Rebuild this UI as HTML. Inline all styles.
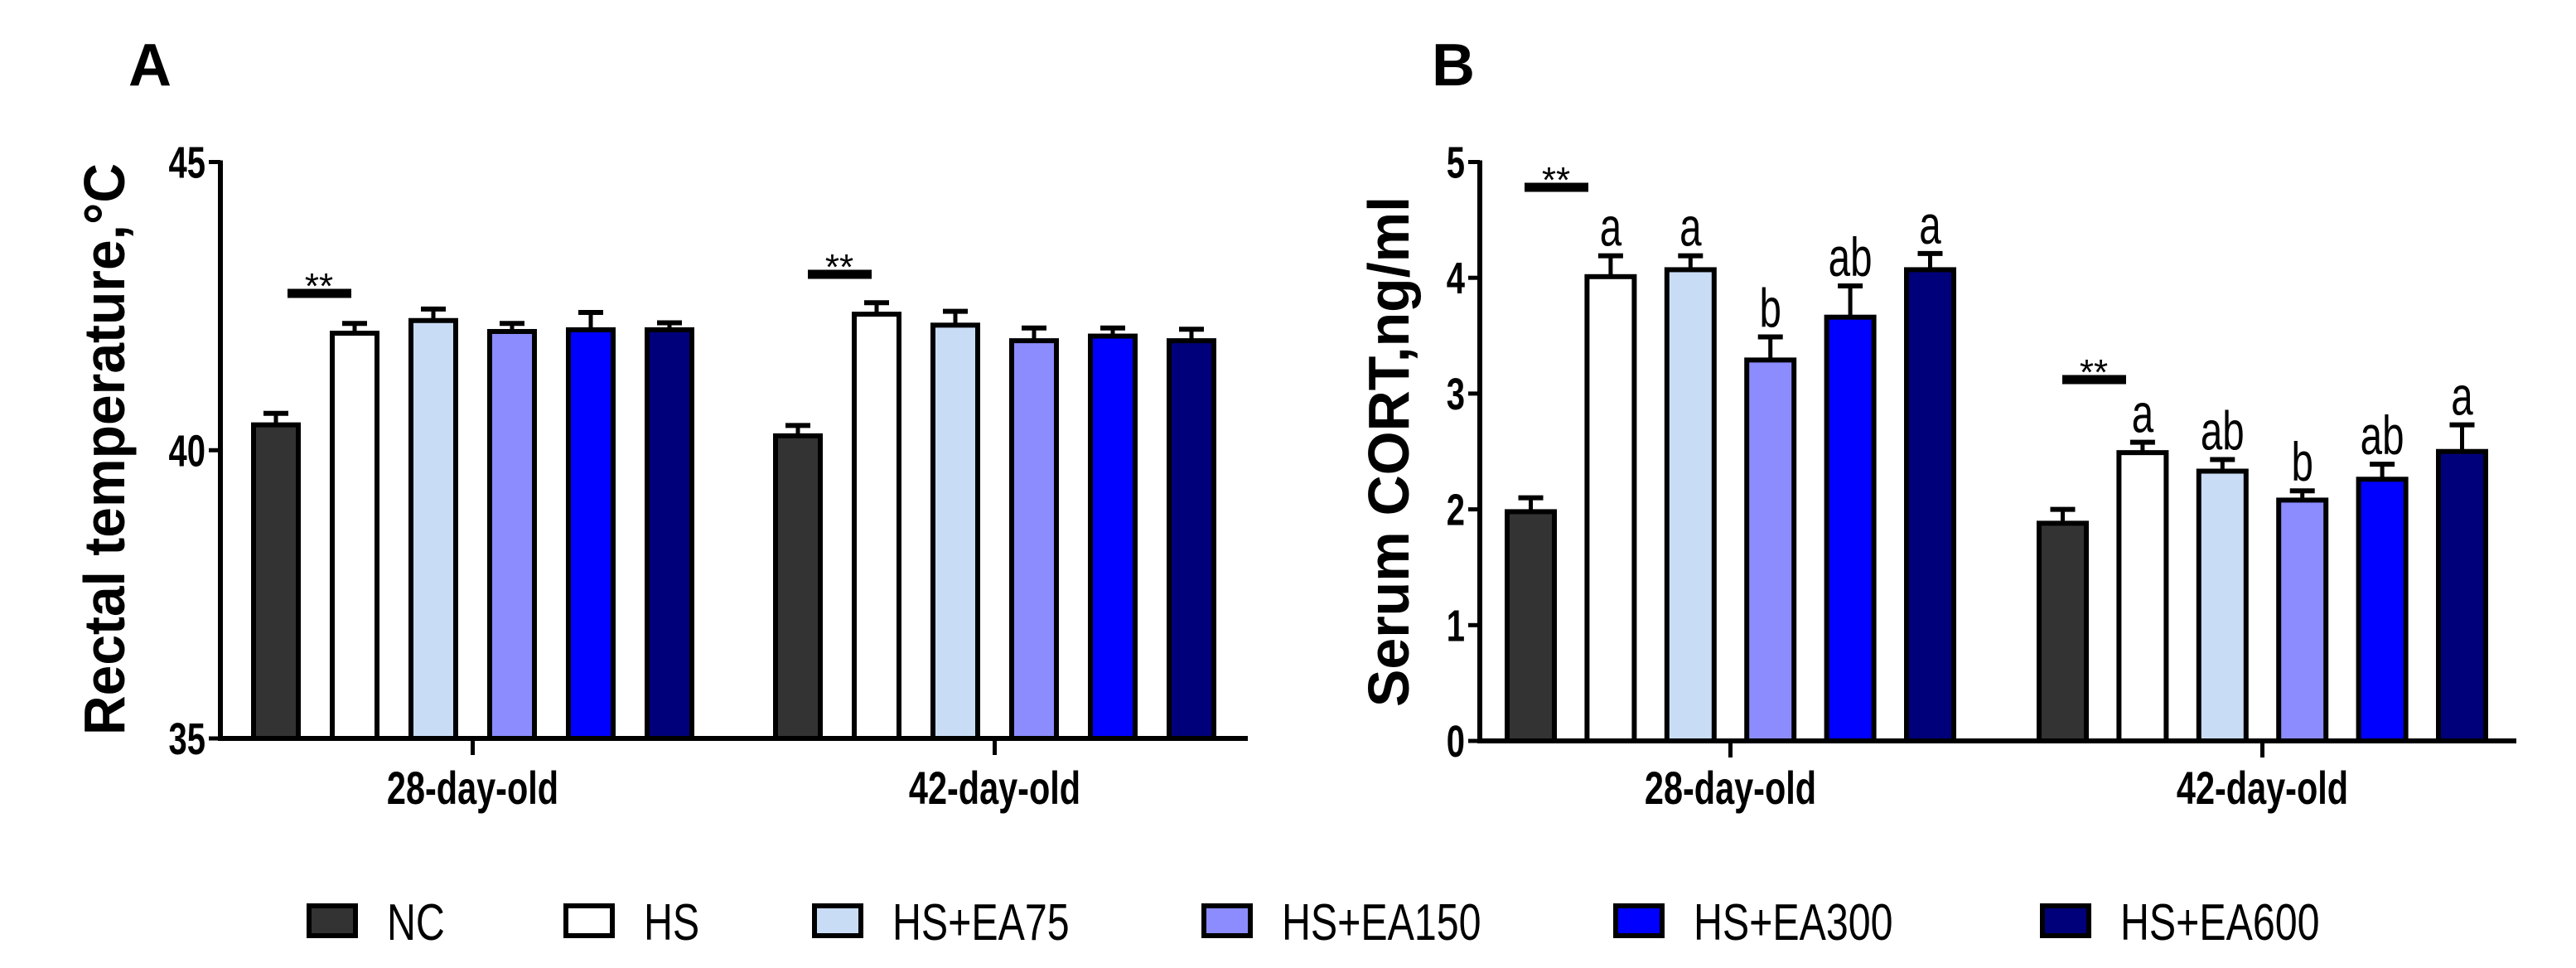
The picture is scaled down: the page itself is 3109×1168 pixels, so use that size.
<!DOCTYPE html>
<html><head><meta charset="utf-8"><style>
html,body{margin:0;padding:0;background:#fff}
svg{display:block}
text{font-family:"Liberation Sans",sans-serif}
</style></head><body>
<svg id="fig" width="3109" height="1168" viewBox="0 0 3109 1168" xmlns="http://www.w3.org/2000/svg">
<g id="legend"></g>
</svg>
<script>
const groups = ["28-day-old", "42-day-old"];
const seriesNames = ["NC", "HS", "HS+EA75", "HS+EA150", "HS+EA300", "HS+EA600"];
const colors = ["#333333", "#ffffff", "#c9dcf6", "#8c8cff", "#0000ff", "#00007a"];
const tempMeans = [[40.44, 42.03, 42.25, 42.06, 42.09, 42.09], [40.25, 42.36, 42.17, 41.9, 41.98, 41.9]];
const tempErr = [[0.2, 0.17, 0.2, 0.14, 0.3, 0.12], [0.18, 0.2, 0.24, 0.22, 0.14, 0.2]];
const tempTicks = [35, 40, 45];
const cortMeans = [[1.98, 4.01, 4.07, 3.29, 3.66, 4.07], [1.88, 2.49, 2.33, 2.08, 2.26, 2.5]];
const cortErr = [[0.12, 0.18, 0.12, 0.2, 0.27, 0.14], [0.12, 0.09, 0.1, 0.08, 0.13, 0.23]];
const cortTicks = [0, 1, 2, 3, 4, 5];
const cortLetters = [["", "a", "a", "b", "ab", "a"], ["", "a", "ab", "b", "ab", "a"]];

const NS = "http://www.w3.org/2000/svg";
const svg = document.getElementById("fig");
function mk(tag, attrs, parent, txt) {
  const e = document.createElementNS(NS, tag);
  for (const k in attrs) e.setAttribute(k, attrs[k]);
  if (txt !== undefined) e.textContent = txt;
  (parent || svg).appendChild(e);
  return e;
}
function ntext(x, y, str, size, anchor, bold, parent, sx) {
  return mk("text", {x: 0, y: 0, "text-anchor": anchor, "font-size": size, "font-weight": bold ? "bold" : "normal",
    transform: `translate(${x},${y}) scale(${sx || 0.74},1)`}, parent, str);
}

function panel(o) {
  const g = mk("g", {});
  
  
  const y = v => o.y0 + (v - o.vmin) / (o.vmax - o.vmin) * (o.y1 - o.y0);
  const L = mk("text", {x: o.letterX, y: 103, "font-size": 72, "font-weight": "bold"}, g, o.letter);
  
  
  const ya = mk("line", {x1: o.ax, y1: y(o.vmax) - 2, x2: o.ax, y2: y(o.vmin) + 3, stroke: "#000", "stroke-width": 6}, g);
  
  
  o.ticks.forEach(t => {
    mk("line", {x1: o.ax - 14, x2: o.ax, y1: y(t), y2: y(t), stroke: "#000", "stroke-width": 5}, g);
    const tl = ntext(o.ax - 18, y(t) + 19, String(t), 54, "end", true, g);
    
    
  });
  const xa = mk("line", {x1: o.ax - 3, y1: y(o.vmin), x2: o.axEnd, y2: y(o.vmin), stroke: "#000", "stroke-width": 6}, g);
  
  
  const yt = mk("text", {x: 0, y: 0, "text-anchor": "middle", "font-size": 70, "font-weight": "bold",
    textLength: o.titleLen, lengthAdjust: "spacingAndGlyphs",
    transform: `translate(${o.titleX},${o.titleY}) rotate(-90)`}, g, o.title);
  
  
  groups.forEach((gn, gi) => {
    const start = o.gStart[gi];
    const center = start + 2.5 * o.pitch + o.bw / 2;
    mk("line", {x1: center, x2: center, y1: y(o.vmin), y2: y(o.vmin) + 20, stroke: "#000", "stroke-width": 5}, g);
    const xl = ntext(center, 970, gn, 56, "middle", true, g);
    
    
    o.means[gi].forEach((m, si) => {
      const x = start + si * o.pitch;
      const top = y(m), cap = y(m + o.err[gi][si]);
      const cx = x + o.bw / 2;
      mk("line", {x1: cx, x2: cx, y1: top, y2: cap, stroke: "#000", "stroke-width": 5}, g);
      mk("line", {x1: cx - 15, x2: cx + 15, y1: cap, y2: cap, stroke: "#000", "stroke-width": 6}, g);
      const b = mk("rect", {x: x + 3, y: top, width: o.bw - 6, height: y(o.vmin) - top, fill: colors[si], stroke: "#000", "stroke-width": 6}, g);
      
      
      if (o.letters && o.letters[gi][si]) {
        const lt = ntext(cx, cap - 12, o.letters[gi][si], 66, "middle", false, g, 0.72);
        
        
      }
    });
    const s = o.sig[gi];
    const sb = mk("line", {x1: s[0], x2: s[0] + 77, y1: s[1], y2: s[1], stroke: "#000", "stroke-width": 11}, g);
    
    
    const st = mk("text", {x: s[0] + 38, y: s[1] + 6, "text-anchor": "middle", "font-size": 44}, g, "**");
    
    
  });
}

panel({name: "panel-a-rectal-temperature", letter: "A", letterX: 155, ax: 266, axEnd: 1506, y0: 891, y1: 195.5, vmin: 35, vmax: 45,
  ticks: tempTicks, means: tempMeans, err: tempErr, gStart: [303, 933], pitch: 95, bw: 60,
  title: "Rectal temperature,°C", titleLen: 690, titleX: 150, titleY: 542, sig: [[347, 354], [975, 331]]});
panel({name: "panel-b-serum-cort", letter: "B", letterX: 1728, ax: 1786, axEnd: 3037, y0: 894, y1: 195.5, vmin: 0, vmax: 5,
  ticks: cortTicks, means: cortMeans, err: cortErr, gStart: [1816, 2458], pitch: 96.4, bw: 63,
  title: "Serum CORT,ng/ml", titleLen: 616, titleX: 1700, titleY: 545, letters: cortLetters, sig: [[1840, 226], [2489, 458]]});

const leg = document.getElementById("legend");
const legX = [370, 680, 980, 1450, 1947, 2462];
seriesNames.forEach((n, i) => {
  const it = mk("g", {}, leg);
  
  
  mk("rect", {x: legX[i] + 3, y: 1093, width: 56, height: 36, fill: colors[i], stroke: "#000", "stroke-width": 6}, it);
  ntext(legX[i] + 97, 1134, n, 62, "start", false, it, 0.78);
});
</script>
</body></html>
